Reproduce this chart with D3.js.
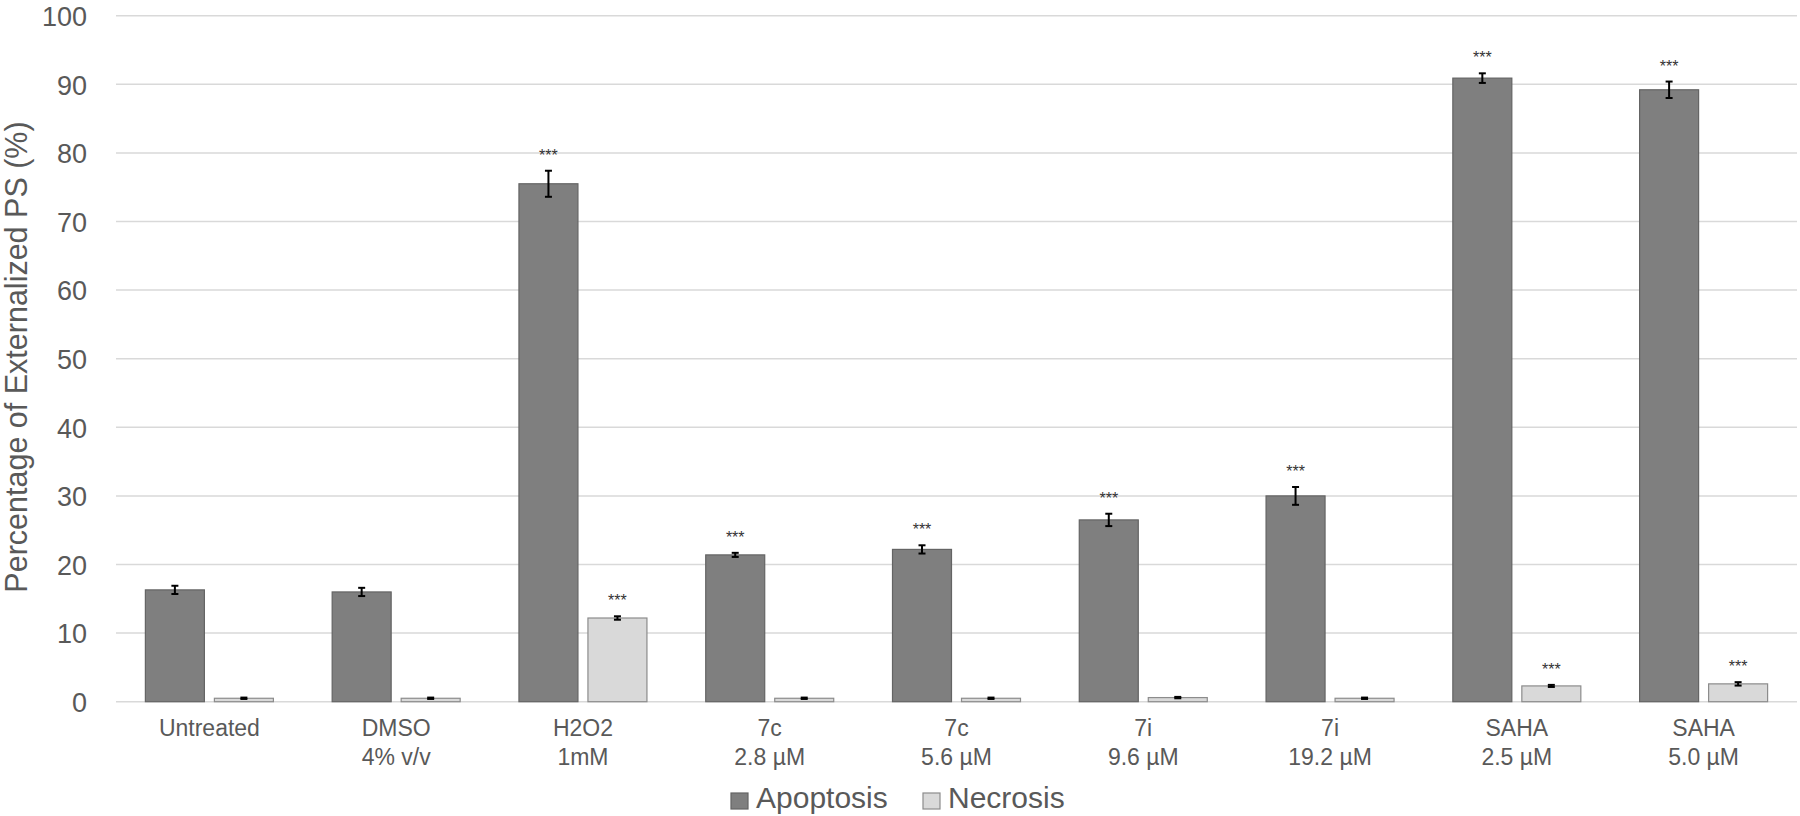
<!DOCTYPE html>
<html><head><meta charset="utf-8">
<script src="https://cdn.jsdelivr.net/npm/d3@7"></script>
<style>body{margin:0;background:#fff;} svg{display:block;font-family:"Liberation Sans",Arial,sans-serif;}</style>
</head><body>
<svg id="chart" width="1800" height="816"></svg>
<script>
const categories = [["Untreated"],["DMSO","4% v/v"],["H2O2","1mM"],["7c","2.8 µM"],["7c","5.6 µM"],["7i","9.6 µM"],["7i","19.2 µM"],["SAHA","2.5 µM"],["SAHA","5.0 µM"]];
const seriesNames = ["Apoptosis","Necrosis"];
const apoptosis = [16.3, 16.0, 75.5, 21.4, 22.2, 26.5, 30.0, 90.9, 89.2];
const apoptosisErr = [0.6, 0.6, 1.9, 0.3, 0.6, 0.9, 1.3, 0.7, 1.2];
const necrosis = [0.5, 0.5, 12.2, 0.5, 0.5, 0.6, 0.5, 2.3, 2.6];
const necrosisErr = [0.1, 0.1, 0.25, 0.1, 0.1, 0.1, 0.1, 0.15, 0.25];
const apoptosisSig = [false, false, true, true, true, true, true, true, true];
const necrosisSig = [false, false, true, false, false, false, false, true, true];
const yTicks = [0,10,20,30,40,50,60,70,80,90,100];
const yTitle = "Percentage of Externalized PS (%)";

const colors = {Apoptosis:"#7f7f7f", Necrosis:"#d9d9d9"};
const strokes = {Apoptosis:"#646464", Necrosis:"#8c8c8c"};
const textColor = "#595959";

const svg = d3.select("#chart");
const pLeft = 116, pRight = 1797, pTop = 15.7, pBottom = 701.7;

const x = d3.scaleBand().domain(d3.range(categories.length)).range([pLeft, pRight]).padding(0);
const xs = d3.scaleBand().domain(seriesNames).range([-64, 64]).paddingInner(0.145);
const y = d3.scaleLinear().domain([0, 100]).range([pBottom, pTop]);

// gridlines
svg.append("g").selectAll("line").data(yTicks).join("line")
  .attr("x1", pLeft).attr("x2", pRight)
  .attr("y1", d => y(d)).attr("y2", d => y(d))
  .attr("stroke", "#d9d9d9").attr("stroke-width", 1.5);

// y axis tick labels
const yAxis = d3.axisLeft(y).tickValues(yTicks).tickSize(0).tickPadding(0);
const ya = svg.append("g").attr("transform", `translate(87,0)`).call(yAxis);
ya.select(".domain").remove();
ya.selectAll("text").attr("font-size", 27).attr("fill", textColor)
  .attr("font-family", '"Liberation Sans",Arial,sans-serif').attr("dy", "0.36em");

// y title
svg.append("text").attr("transform", "translate(27,357) rotate(-90)")
  .attr("text-anchor", "middle").attr("font-size", 30.5).attr("fill", textColor)
  .text(yTitle);

const data = categories.map((c, i) => ({
  i,
  vals: [
    {s:"Apoptosis", v:apoptosis[i], e:apoptosisErr[i], sig:apoptosisSig[i]},
    {s:"Necrosis", v:necrosis[i], e:necrosisErr[i], sig:necrosisSig[i]}
  ]
}));

const groups = svg.append("g").selectAll("g").data(data).join("g")
  .attr("transform", d => `translate(${x(d.i) + x.bandwidth()/2},0)`);

const items = groups.selectAll("g.item").data(d => d.vals).join("g").attr("class","item");

items.append("rect")
  .attr("x", d => xs(d.s)).attr("width", xs.bandwidth())
  .attr("y", d => y(d.v)).attr("height", d => y(0) - y(d.v))
  .attr("fill", d => colors[d.s]).attr("stroke", d => strokes[d.s]).attr("stroke-width", 1.2);

// error bars
const cx = d => xs(d.s) + xs.bandwidth()/2;
items.append("line").attr("x1", cx).attr("x2", cx)
  .attr("y1", d => y(d.v + d.e)).attr("y2", d => y(d.v - d.e))
  .attr("stroke", "#000").attr("stroke-width", 2);
items.append("line").attr("x1", d => cx(d) - 3.5).attr("x2", d => cx(d) + 3.5)
  .attr("y1", d => y(d.v + d.e)).attr("y2", d => y(d.v + d.e))
  .attr("stroke", "#000").attr("stroke-width", 2);
items.append("line").attr("x1", d => cx(d) - 3.5).attr("x2", d => cx(d) + 3.5)
  .attr("y1", d => y(d.v - d.e)).attr("y2", d => y(d.v - d.e))
  .attr("stroke", "#000").attr("stroke-width", 2);

// significance stars
items.filter(d => d.sig).append("text")
  .attr("x", cx).attr("y", d => y(d.v + d.e) - 19 + 9)
  .attr("text-anchor", "middle").attr("font-size", 16).attr("fill", "#333")
  .text("***");

// x labels
const xl = svg.append("g").selectAll("text").data(categories).join("text")
  .attr("text-anchor", "middle").attr("font-size", 23).attr("fill", textColor)
  .attr("transform", (d, i) => `translate(${x(i) + x.bandwidth()/2},0)`);
xl.selectAll("tspan").data(d => d).join("tspan")
  .attr("x", 0).attr("y", (d, j) => 736 + j * 29).text(d => d);

// legend
const legendX = [731, 923];
const lg = svg.append("g").selectAll("g").data(seriesNames).join("g")
  .attr("transform", (d, i) => `translate(${legendX[i]},0)`);
lg.append("rect").attr("x", 0).attr("y", 793).attr("width", 17).attr("height", 16)
  .attr("fill", d => colors[d]).attr("stroke", d => strokes[d]).attr("stroke-width", 1.2);
lg.append("text").attr("x", 25).attr("y", 808).attr("font-size", 30).attr("fill", textColor)
  .text(d => d);
</script>
</body></html>
